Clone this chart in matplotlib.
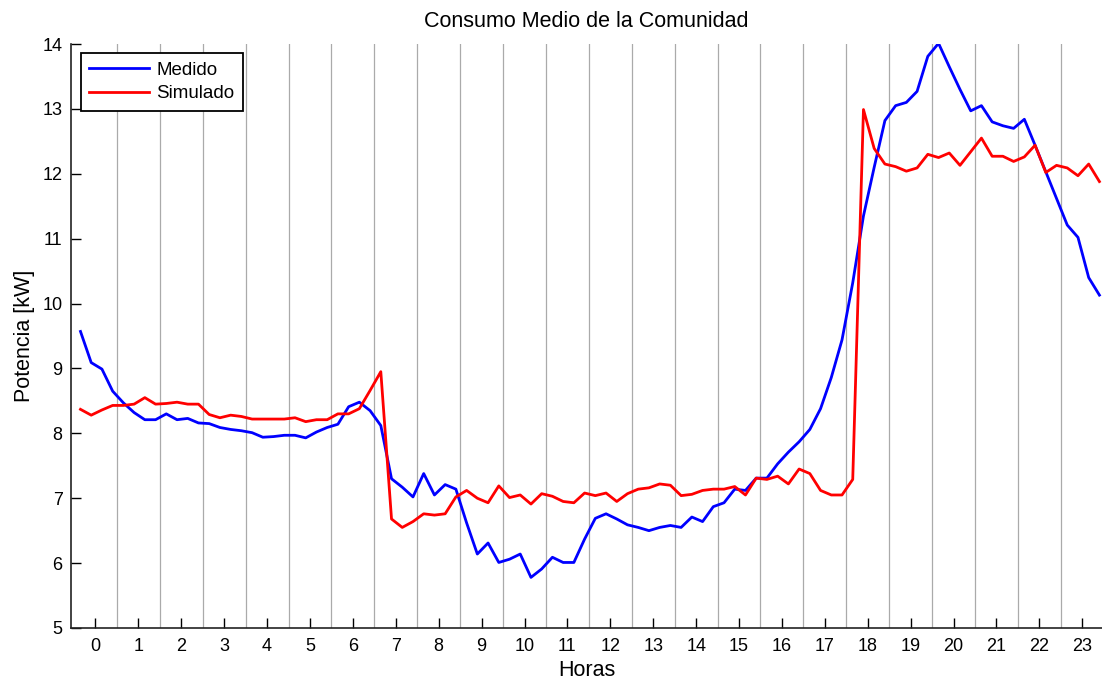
import numpy as np
import matplotlib
matplotlib.use("Agg")
import matplotlib.pyplot as plt

# ---- data (15-min resolution, kW) ----
medido = [9.57, 9.09, 8.99, 8.65, 8.47, 8.32, 8.21, 8.21, 8.30, 8.21, 8.23, 8.16,
          8.15, 8.09, 8.06, 8.04, 8.01, 7.94, 7.95, 7.97, 7.97, 7.93, 8.02, 8.09,
          8.14, 8.41, 8.48, 8.35, 8.12, 7.30, 7.17, 7.02, 7.38, 7.05, 7.21, 7.14,
          6.62, 6.14, 6.31, 6.01, 6.06, 6.14, 5.78, 5.91, 6.09, 6.01, 6.01, 6.37,
          6.69, 6.76, 6.68, 6.59, 6.55, 6.50, 6.55, 6.58, 6.55, 6.71, 6.64, 6.87,
          6.93, 7.14, 7.12, 7.31, 7.31, 7.53, 7.71, 7.87, 8.06, 8.38, 8.86, 9.44,
          10.32, 11.35, 12.10, 12.82, 13.05, 13.10, 13.27, 13.81, 14.01, 13.65, 13.30, 12.97,
          13.05, 12.80, 12.74, 12.70, 12.84, 12.44, 12.03, 11.62, 11.21, 11.02, 10.40, 10.13]
simulado = [8.37, 8.28, 8.36, 8.43, 8.43, 8.45, 8.55, 8.45, 8.46, 8.48, 8.45, 8.45,
            8.29, 8.24, 8.28, 8.26, 8.22, 8.22, 8.22, 8.22, 8.24, 8.18, 8.21, 8.21,
            8.30, 8.30, 8.38, 8.66, 8.95, 6.68, 6.55, 6.64, 6.76, 6.74, 6.76, 7.02,
            7.12, 7.00, 6.93, 7.19, 7.01, 7.05, 6.91, 7.07, 7.03, 6.95, 6.93, 7.08,
            7.04, 7.08, 6.95, 7.07, 7.14, 7.16, 7.22, 7.20, 7.04, 7.06, 7.12, 7.14,
            7.14, 7.18, 7.05, 7.31, 7.29, 7.34, 7.22, 7.45, 7.38, 7.12, 7.05, 7.05,
            7.29, 12.99, 12.39, 12.15, 12.11, 12.04, 12.09, 12.30, 12.25, 12.32, 12.13, 12.34,
            12.55, 12.27, 12.27, 12.19, 12.26, 12.44, 12.02, 12.13, 12.09, 11.97, 12.15, 11.88]
horas = np.arange(len(medido)) * 0.25 - 0.35
hour_ticks = list(range(0, 24))
y_ticks = list(range(5, 15))
grid_pos = [h + 0.5 for h in range(0, 23)]

plt.rcParams['font.family'] = ['Liberation Sans', 'DejaVu Sans']

fig = plt.figure(figsize=(11.02, 6.80), dpi=100)
ax = fig.add_axes([71/1102, 52/680, 1031/1102, 584/680])

for g in grid_pos:
    ax.axvline(g, color='#aaaaaa', lw=0.9, zorder=0)

ax.plot(horas, medido, color='#0000ff', lw=2.0, label='Medido', zorder=3)
ax.plot(horas, simulado, color='#ff0000', lw=2.0, label='Simulado', zorder=3)

ax.set_xlim(-0.571, 23.46)
ax.set_ylim(5, 14)
ax.set_xticks(hour_ticks)
ax.set_yticks(y_ticks)
ax.tick_params(direction='in', length=7, width=1.0, labelsize=13, colors='black')
ax.tick_params(axis='x', pad=7)
ax.tick_params(axis='y', pad=6)

for s in ['top', 'right']:
    ax.spines[s].set_visible(False)
for s in ['left', 'bottom']:
    ax.spines[s].set_linewidth(1.2)
    ax.spines[s].set_color('#222222')

ax.set_title('Consumo Medio de la Comunidad', fontsize=15.5, pad=12)
ax.set_xlabel('Horas', fontsize=15.5)
ax.set_ylabel('Potencia [kW]', fontsize=15.5)
ax.xaxis.set_label_coords(0.5, -0.055)
ax.yaxis.set_label_coords(-0.035, 0.5)

leg = ax.legend(loc='upper left', bbox_to_anchor=(0.0097, 0.9846), fontsize=13.5,
                handlelength=3.2, handletextpad=0.35, borderpad=0.45,
                labelspacing=0.35, borderaxespad=0.0, fancybox=False,
                framealpha=1.0, edgecolor='black')
leg.get_frame().set_linewidth(1.3)

fig.savefig('out.png', dpi=100)
